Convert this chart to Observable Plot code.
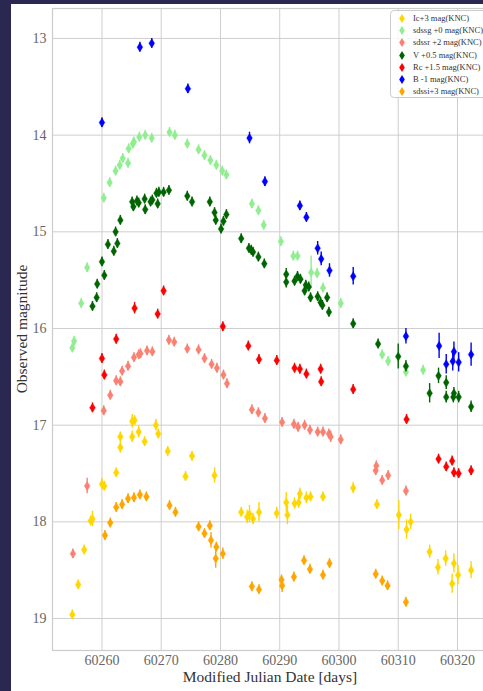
<!DOCTYPE html>
<html>
<head>
<meta charset="utf-8">
<script src="https://cdn.jsdelivr.net/npm/d3@7"></script>
<script src="https://cdn.jsdelivr.net/npm/@observablehq/plot@0.6"></script>
<style>
  html, body { margin: 0; padding: 0; background: #2a2750; width: 483px; height: 691px; overflow: hidden; }
  #panel { position: absolute; left: 11px; top: 4px; right: 0; bottom: 0; background: #ffffff; }
  #chart { position: absolute; left: 0; top: 0; }
  .lab { position: absolute; font-family: "Liberation Serif", serif; color: #333; white-space: nowrap; line-height: 16px; }
  #legend { position: absolute; left: 390px; top: 10px; width: 100px; height: 86px; border: 1px solid #cccccc; border-radius: 4px; background: rgba(255,255,255,0.85); font-family: "Liberation Serif", serif; font-size: 8.5px; color: #333; }
  .row { position: absolute; left: 0; height: 12px; line-height: 12px; white-space: nowrap; }
  .row svg { position: absolute; left: 7px; top: 1px; }
  .row span { position: absolute; left: 22px; top: 0; }
</style>
</head>
<body>
<div id="panel"></div>
<div id="chart"></div>
<div class="lab" id="xlab" style="left:0; width:540px; top:669px; font-size:15.5px; text-align:center;">Modified Julian Date [days]</div>
<div class="lab" id="ylab" style="left:22px; top:329px; font-size:15.5px; transform: translate(-50%,-50%) rotate(-90deg);">Observed magnitude</div>
<div id="legend"></div>
<script>
// Series: [MJD, magnitude, error]
const seriesNames = ["Ic+3 mag(KNC)", "sdssg +0 mag(KNC)", "sdssr +2 mag(KNC)", "V +0.5 mag(KNC)", "Rc +1.5 mag(KNC)", "B -1 mag(KNC)", "sdssi+3 mag(KNC)"];
const seriesColors = ["#FFD700", "#90EE90", "#FA8072", "#006400", "#FF0000", "#0000FF", "#FFA500"];

const Ic = [
  [60255.0,18.96,0.05],[60256.0,18.65,0.05],[60257.0,18.29,0.05],[60258.1,17.99,0.05],[60258.4,17.97,0.08],
  [60260.0,17.61,0.06],[60260.4,17.63,0.05],[60262.4,17.49,0.05],[60263.1,17.23,0.06],[60263.1,17.12,0.05],
  [60265.1,17.12,0.06],[60265.1,16.96,0.07],[60265.5,16.95,0.05],[60266.2,17.07,0.06],[60267.2,17.17,0.05],
  [60269.1,17.00,0.06],[60269.5,17.09,0.05],[60271.1,17.27,0.05],[60274.1,17.53,0.05],[60275.2,17.32,0.05],
  [60279.0,17.52,0.08],[60283.5,17.90,0.05],[60284.5,17.95,0.07],[60284.9,17.92,0.09],[60285.5,17.97,0.06],
  [60286.5,17.90,0.1],[60289.5,17.91,0.06],[60291.1,17.80,0.1],[60291.3,17.93,0.1],[60292.5,17.81,0.06],
  [60293.2,17.80,0.06],[60293.4,17.71,0.06],[60294.5,17.75,0.06],[60295.2,17.74,0.05],[60297.3,17.74,0.05],
  [60302.4,17.65,0.06],[60306.4,17.82,0.05],[60310.1,17.93,0.15],[60311.4,18.08,0.1],[60312.1,18.00,0.08],
  [60315.3,18.31,0.07],[60316.7,18.47,0.08],[60318.0,18.38,0.08],[60319.1,18.64,0.1],[60319.4,18.43,0.1],
  [60320.1,18.55,0.1],[60322.3,18.50,0.09]
];
const sdssg = [
  [60255.0,16.20,0.05],[60255.3,16.13,0.05],[60256.5,15.74,0.05],[60257.5,15.37,0.05],[60260.3,14.65,0.05],
  [60261.3,14.49,0.05],[60262.3,14.37,0.05],[60263.0,14.31,0.05],[60263.5,14.24,0.05],[60264.4,14.29,0.05],
  [60264.5,14.14,0.05],[60265.2,14.09,0.05],[60265.4,14.07,0.05],[60266.3,14.02,0.05],[60267.3,14.00,0.05],
  [60268.4,14.03,0.05],[60271.4,13.97,0.05],[60272.3,14.00,0.05],[60274.4,14.09,0.05],[60276.3,14.15,0.05],
  [60277.3,14.21,0.05],[60278.3,14.26,0.05],[60279.3,14.31,0.05],[60280.3,14.37,0.05],[60281.0,14.41,0.05],
  [60285.3,14.71,0.05],[60286.4,14.78,0.05],[60287.3,14.93,0.05],[60290.2,15.10,0.05],[60292.3,15.25,0.05],
  [60293.0,15.25,0.05],[60295.3,15.42,0.17],[60296.3,15.43,0.05],[60297.3,15.58,0.05],[60300.3,15.74,0.05],
  [60307.3,16.27,0.05],[60308.3,16.34,0.05],[60311.3,16.45,0.05],[60314.2,16.43,0.05]
];
const sdssr = [
  [60255.1,18.33,0.05],[60257.5,17.63,0.08],[60260.3,16.85,0.05],[60261.4,16.69,0.05],[60262.4,16.54,0.05],
  [60263.1,16.55,0.05],[60263.4,16.44,0.05],[60264.4,16.39,0.05],[60265.4,16.30,0.05],[60266.2,16.27,0.05],
  [60266.5,16.26,0.05],[60267.6,16.23,0.05],[60268.5,16.24,0.05],[60271.3,16.12,0.05],[60272.2,16.14,0.05],
  [60274.4,16.21,0.05],[60276.3,16.22,0.05],[60277.3,16.31,0.05],[60278.5,16.37,0.05],[60279.4,16.41,0.05],
  [60280.5,16.48,0.05],[60281.1,16.57,0.05],[60285.3,16.84,0.05],[60286.4,16.87,0.05],[60287.5,16.93,0.05],
  [60290.4,16.97,0.05],[60292.4,16.99,0.05],[60293.1,17.02,0.05],[60294.2,17.00,0.05],[60295.1,17.05,0.05],
  [60296.4,17.07,0.05],[60297.3,17.07,0.05],[60298.3,17.09,0.05],[60298.6,17.12,0.06],[60300.3,17.15,0.05],
  [60306.2,17.47,0.05],[60306.3,17.42,0.05],[60307.3,17.57,0.05],[60308.3,17.52,0.05],[60311.3,17.68,0.05]
];
const V = [
  [60258.4,15.77,0.05],[60259.1,15.68,0.05],[60259.2,15.54,0.05],[60260.0,15.31,0.05],[60260.4,15.45,0.05],
  [60261.0,15.13,0.05],[60262.0,15.20,0.05],[60262.3,15.00,0.05],[60262.6,15.12,0.05],[60263.1,14.88,0.05],
  [60265.1,14.69,0.05],[60265.3,14.74,0.05],[60265.9,14.68,0.05],[60266.2,14.70,0.05],[60267.2,14.66,0.05],
  [60267.3,14.77,0.05],[60268.2,14.69,0.05],[60268.5,14.67,0.05],[60269.2,14.60,0.05],[60269.4,14.71,0.05],
  [60269.6,14.59,0.05],[60270.4,14.59,0.05],[60271.3,14.57,0.05],[60274.4,14.63,0.05],[60275.2,14.69,0.05],
  [60278.2,14.69,0.05],[60279.0,14.80,0.05],[60279.2,14.88,0.05],[60280.1,14.97,0.05],[60280.5,14.89,0.05],
  [60281.0,14.82,0.05],[60283.5,15.07,0.05],[60284.8,15.17,0.05],[60285.2,15.19,0.05],[60285.5,15.21,0.05],
  [60286.4,15.26,0.05],[60287.4,15.33,0.05],[60291.1,15.44,0.06],[60291.1,15.52,0.06],[60292.5,15.51,0.05],
  [60293.0,15.46,0.05],[60293.5,15.49,0.05],[60294.2,15.61,0.05],[60294.4,15.55,0.05],[60294.9,15.57,0.05],
  [60295.2,15.68,0.05],[60296.4,15.67,0.05],[60296.9,15.73,0.05],[60297.2,15.76,0.05],[60298.0,15.68,0.05],
  [60298.3,15.83,0.05],[60302.4,15.95,0.05],[60306.6,16.16,0.05],[60310.0,16.29,0.13],[60311.3,16.39,0.06],
  [60315.3,16.67,0.1],[60316.8,16.49,0.08],[60318.1,16.56,0.07],[60318.1,16.71,0.06],[60319.3,16.71,0.06],
  [60319.4,16.67,0.06],[60320.2,16.71,0.06],[60322.3,16.81,0.06]
];
const Rc = [
  [60258.4,16.82,0.05],[60260.0,16.31,0.05],[60260.4,16.48,0.05],[60262.4,16.11,0.05],[60265.5,15.79,0.06],
  [60269.4,15.85,0.05],[60270.4,15.61,0.05],[60280.4,15.98,0.05],[60284.7,16.18,0.05],[60286.5,16.32,0.05],
  [60289.5,16.33,0.05],[60292.5,16.41,0.05],[60293.4,16.42,0.05],[60294.5,16.47,0.05],[60296.9,16.42,0.05],
  [60297.0,16.55,0.05],[60302.4,16.63,0.05],[60311.4,16.94,0.05],[60316.8,17.35,0.05],[60318.1,17.43,0.05],
  [60319.1,17.37,0.05],[60319.4,17.49,0.05],[60320.2,17.50,0.05],[60322.3,17.47,0.05]
];
const B = [
  [60260.0,13.87,0.05],[60266.4,13.09,0.05],[60268.4,13.05,0.05],[60274.5,13.52,0.05],[60284.9,14.03,0.06],
  [60287.5,14.48,0.05],[60293.4,14.73,0.05],[60294.5,14.85,0.05],[60296.4,15.17,0.07],[60297.0,15.28,0.07],
  [60298.4,15.40,0.07],[60302.4,15.46,0.09],[60311.3,16.08,0.08],[60316.9,16.18,0.13],[60318.1,16.37,0.1],
  [60319.2,16.34,0.1],[60319.4,16.24,0.1],[60320.2,16.35,0.1],[60322.3,16.27,0.12]
];
const sdssi = [
  [60260.5,18.14,0.05],[60261.4,18.01,0.05],[60262.4,17.85,0.05],[60263.4,17.82,0.05],[60264.4,17.76,0.05],
  [60265.4,17.75,0.05],[60266.4,17.72,0.05],[60267.5,17.74,0.05],[60271.4,17.83,0.05],[60272.4,17.90,0.05],
  [60276.3,18.05,0.05],[60277.3,18.12,0.05],[60278.2,18.04,0.05],[60278.4,18.19,0.08],[60279.3,18.26,0.05],
  [60279.2,18.38,0.1],[60280.4,18.33,0.06],[60285.3,18.67,0.05],[60286.5,18.70,0.05],[60290.3,18.60,0.05],
  [60290.4,18.66,0.07],[60292.4,18.57,0.05],[60294.1,18.40,0.05],[60295.1,18.49,0.05],[60297.3,18.55,0.05],
  [60298.4,18.43,0.05],[60306.2,18.54,0.05],[60307.3,18.61,0.05],[60308.2,18.66,0.05],[60311.3,18.83,0.05]
];
const allSeries = [Ic, sdssg, sdssr, V, Rc, B, sdssi];

const xTicks = [60260, 60270, 60280, 60290, 60300, 60310, 60320];
const yTicks = [13, 14, 15, 16, 17, 18, 19];

const thinDiamond = {
  draw(ctx, size) {
    const r = Math.sqrt(size / Math.PI);
    const w = r * 0.62;
    ctx.moveTo(0, -r); ctx.lineTo(w, 0); ctx.lineTo(0, r); ctx.lineTo(-w, 0); ctx.closePath();
  }
};

const marks = [];
marks.push(Plot.gridX(xTicks, {stroke: "#cfcfcf", strokeOpacity: 1, strokeWidth: 1}));
marks.push(Plot.gridY(yTicks, {stroke: "#cfcfcf", strokeOpacity: 1, strokeWidth: 1}));
marks.push(Plot.frame({stroke: "#cccccc", strokeWidth: 1.2}));
allSeries.forEach((s, i) => {
  const c = seriesColors[i];
  marks.push(Plot.ruleX(s, {x: d => d[0], y1: d => d[1] - d[2], y2: d => d[1] + d[2], stroke: c, strokeWidth: 1.4}));
  marks.push(Plot.dot(s, {x: d => d[0], y: d => d[1], symbol: thinDiamond, r: 4.6, fill: c, stroke: c, strokeWidth: 0.4}));
});
marks.push(Plot.axisX(xTicks, {tickSize: 0, tickPadding: 5, fontSize: 14, fill: "#666", label: null, tickFormat: d => String(d)}));
marks.push(Plot.axisY(yTicks, {tickSize: 0, tickPadding: 6, fontSize: 14, fill: "#666", label: null, tickFormat: d => String(d)}));

const chart = Plot.plot({
  width: 483,
  height: 691,
  marginLeft: 52,
  marginTop: 8,
  marginBottom: 41,
  marginRight: 0,
  style: {background: "transparent", fontFamily: "Liberation Serif, serif", overflow: "visible"},
  x: {domain: [60251.65, 60324.39]},
  y: {domain: [12.69, 19.331], reverse: true},
  marks
});
document.getElementById("chart").appendChild(chart);

// Legend
const leg = document.getElementById("legend");
seriesNames.forEach((name, i) => {
  const row = document.createElement("div");
  row.className = "row";
  row.style.top = (1 + i * 12.2) + "px";
  row.innerHTML = `<svg width="8" height="11" viewBox="-4 -5.5 8 11"><path d="M0,-4.5L2.8,0L0,4.5L-2.8,0Z" fill="${seriesColors[i]}"/></svg><span>${name}</span>`;
  leg.appendChild(row);
});
</script>
</body>
</html>
